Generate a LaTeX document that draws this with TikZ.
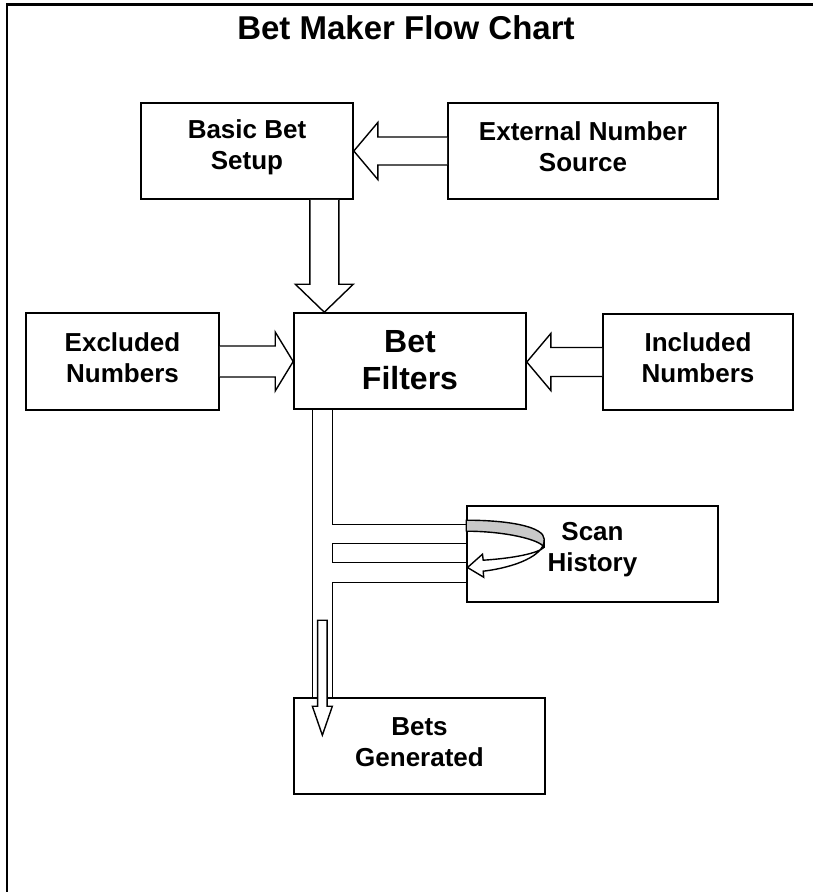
\documentclass[tikz,border=0pt]{standalone}
\usepackage{fontspec}
\setmainfont{Liberation Sans}
\usetikzlibrary{calc}
\tikzset{
  box/.style={draw, line width=1.6pt, inner sep=0pt, fill=white},
  lbl/.style={font=\bfseries\fontsize{26}{31}\selectfont, align=center, inner sep=0pt},
  biglbl/.style={font=\bfseries\fontsize{32}{37}\selectfont, align=center, inner sep=0pt},
  titlelbl/.style={font=\bfseries\fontsize{33}{38}\selectfont, inner sep=0pt},
  barrow/.style={draw, fill=white, line width=1.4pt, line join=miter},
  pipe/.style={draw, line width=1.4pt},
  frame/.style={draw, line width=2.3pt}
}
\begin{document}
\begin{tikzpicture}[x=1pt,y=-1pt]
\useasboundingbox (0,0) rectangle (813,892);
% frame
\draw[frame] (6.7,892) -- (6.7,4.5) -- (813,4.5);
% title
\node[titlelbl] (title) at (406,28) {Bet Maker Flow Chart};
% boxes
\node[box, minimum width=212pt, minimum height=96pt] (basic) at (247,151) {};
\node[box, minimum width=270pt, minimum height=96pt] (ext) at (583,151) {};
\node[box, minimum width=193pt, minimum height=97pt] (excl) at (122.5,361.5) {};
\node[box, minimum width=232pt, minimum height=96pt] (filt) at (410,361) {};
\node[box, minimum width=190pt, minimum height=96pt] (incl) at (698,362) {};
\node[box, minimum width=251pt, minimum height=96pt] (scan) at (592.5,554) {};
\node[box, minimum width=251pt, minimum height=96pt] (bets) at (419.5,746) {};
% labels
\node[lbl] (basic-t) at ($(basic.center)+(0,-4)$) {Basic Bet\\Setup};
\node[lbl] (ext-t) at ($(ext.center)+(0,-4)$) {External Number\\Source};
\node[lbl] (excl-t) at ($(excl.center)+(0,-4)$) {Excluded\\Numbers};
\node[biglbl] (filt-t) at ($(filt.center)+(0,-1)$) {Bet\\Filters};
\node[lbl] (incl-t) at ($(incl.center)+(0,-4)$) {Included\\Numbers};
\node[lbl] (scan-t) at ($(scan.center)+(0,-4)$) {Scan\\History};
\node[lbl] (bets-t) at ($(bets.center)+(0,-4)$) {Bets\\Generated};
% ext -> basic
\draw[barrow] ($(ext.west)+(0,-14)$) -- ($(basic.east)+(24,-14)$) -- ($(basic.east)+(24,-28.5)$)
  -- (basic.east) -- ($(basic.east)+(24,28.5)$) -- ($(basic.east)+(24,14)$) -- ($(ext.west)+(0,14)$);
% basic -> filters
\coordinate (a2s) at ($(basic.south east)+(-29.5,0)$);
\coordinate (a2t) at (a2s |- filt.north);
\draw[barrow] ($(a2s)+(-14.5,0)$) -- ($(a2t)+(-14.5,-28)$) -- ($(a2t)+(-29,-28)$) -- (a2t)
  -- ($(a2t)+(29,-28)$) -- ($(a2t)+(14.5,-28)$) -- ($(a2s)+(14.5,0)$);
% excluded -> filters
\coordinate (a3t) at (excl.east -| filt.west);
\draw[barrow] ($(excl.east)+(0,-15.5)$) -- ($(a3t)+(-18,-15.5)$) -- ($(a3t)+(-18,-29.5)$) -- (a3t)
  -- ($(a3t)+(-18,29.5)$) -- ($(a3t)+(-18,15.5)$) -- ($(excl.east)+(0,15.5)$);
% included -> filters
\coordinate (a4t) at (incl.west -| filt.east);
\draw[barrow] ($(incl.west)+(0,-14.5)$) -- ($(a4t)+(24,-14.5)$) -- ($(a4t)+(24,-28.5)$) -- (a4t)
  -- ($(a4t)+(24,28.5)$) -- ($(a4t)+(24,14.5)$) -- ($(incl.west)+(0,14.5)$);
% pipe from filters
\coordinate (pL) at ($(filt.south west)+(19.3,0)$);
\coordinate (pR) at ($(filt.south west)+(39,0)$);
\coordinate (s1) at ($(scan.north west)+(0,19)$);
\coordinate (s2) at ($(scan.north west)+(0,38)$);
\coordinate (s3) at ($(scan.north west)+(0,57)$);
\coordinate (s4) at ($(scan.north west)+(0,77)$);
\draw[pipe] (pL) -- (pL |- bets.north);
\draw[pipe] (pR) -- (pR |- s1) -- (s1);
\draw[pipe] (s2) -- (pR |- s2) -- (pR |- s3) -- (s3);
\draw[pipe] (s4) -- (pR |- s4) -- (pR |- bets.north);
% inner arrow to bets
\coordinate (a5x) at ($(pL)!0.5!(pR)$);
\coordinate (a5t) at ($(a5x |- bets.north)+(0,38)$);
\draw[barrow] ($(a5t)+(-4.8,-115)$) -- ($(a5t)+(-4.8,-29)$) -- ($(a5t)+(-10,-29)$) -- (a5t)
  -- ($(a5t)+(10,-29)$) -- ($(a5t)+(4.8,-29)$) -- ($(a5t)+(4.8,-115)$) -- cycle;
% curved arrow in scan history
\begin{scope}[shift={(scan.north west)}]
  \draw[line width=1.4pt, fill=gray!42, line join=round] (0,15) .. controls (45,15) and (78,22) .. (78,34)
    -- (78,42) .. controls (73,34) and (38,26) .. (0,26) -- cycle;
  \draw[line width=1.4pt, fill=white, line join=miter] (78,35) .. controls (78,50) and (50,62) .. (17,66)
    -- (17.5,72) -- (1.3,62.3) -- (16.3,49) -- (17,55) .. controls (48,53) and (72,48) .. (78,42) -- cycle;
\end{scope}
\end{tikzpicture}
\end{document}
